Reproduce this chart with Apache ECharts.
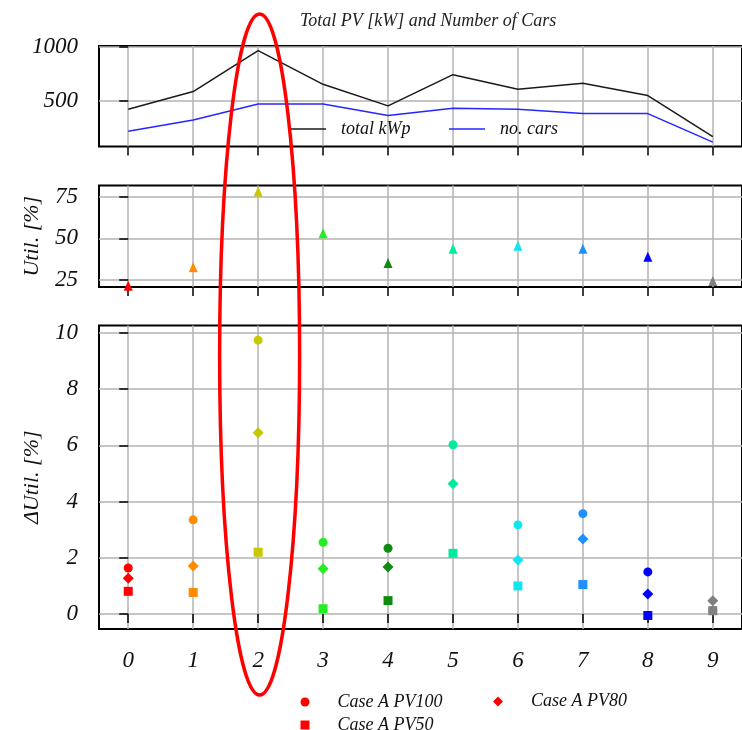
<!DOCTYPE html>
<html>
<head>
<meta charset="utf-8">
<script src="https://cdn.jsdelivr.net/npm/echarts@6/dist/echarts.min.js"></script>
<style>
html,body{margin:0;padding:0;background:#fff;}
#chart{width:742px;height:730px;}
</style>
</head>
<body>
<div id="chart"></div>
<script>
// ---- data ----
const cases = [0, 1, 2, 3, 4, 5, 6, 7, 8, 9];
const xTicks = [0, 1, 2, 3, 4, 5, 6, 7, 8, 9];
const totalKwp = [424, 586, 963, 653, 454, 742, 608, 663, 549, 171];
const noCars = [221, 325, 472, 472, 365, 433, 424, 383, 383, 120];
const util = [21.3, 32.5, 78.4, 53.1, 35.1, 43.7, 45.5, 43.7, 38.9, 24.2];
const pv100 = [1.64, 3.35, 9.74, 2.55, 2.34, 6.02, 3.17, 3.57, 1.50, 0.13];
const pv80 = [1.27, 1.71, 6.45, 1.61, 1.67, 4.63, 1.92, 2.67, 0.71, 0.47];
const pv50 = [0.81, 0.77, 2.20, 0.19, 0.48, 2.16, 1.00, 1.05, -0.05, 0.12];
const caseColors = ['#ff0000', '#ff8c00', '#c8c800', '#22ee22', '#108a10', '#00eba0', '#11e6f0', '#1e90ff', '#0000ff', '#808080'];
const topTicks = [500, 1000];
const midTicks = [25, 50, 75];
const botTicks = [0, 2, 4, 6, 8, 10];
const title = 'Total PV [kW] and Number of Cars';

// ---- styles ----
const FF = '"Liberation Serif", "Times New Roman", serif';
const gridLine = { show: true, lineStyle: { color: '#b3b3b3', width: 1.5 } };

function xAx(gi, showLabels) {
  return {
    type: 'value', gridIndex: gi, min: -0.45, max: 9.45,
    axisLine: { show: false },
    axisTick: { show: true, length: 9, inside: false, customValues: xTicks, lineStyle: { color: '#000', width: 1.5 } },
    axisLabel: { show: showLabels, customValues: xTicks, formatter: v => String(v),
      fontFamily: FF, fontStyle: 'italic', fontSize: 23, color: '#111', margin: 20 },
    splitLine: gridLine
  };
}
function yAx(gi, min, max, ticks, name) {
  return {
    type: 'value', gridIndex: gi, min: min, max: max,
    axisLine: { show: false },
    axisTick: { show: true, length: 9, inside: false, customValues: ticks, lineStyle: { color: '#000', width: 1.5 } },
    axisLabel: { customValues: ticks, formatter: v => String(v),
      fontFamily: FF, fontStyle: 'italic', fontSize: 23, color: '#111', margin: 21 },
    splitLine: gridLine,
    name: name, nameLocation: 'middle', nameGap: 56, nameRotate: 90,
    nameTextStyle: { fontFamily: FF, fontStyle: 'italic', fontSize: 22, color: '#111' }
  };
}
const gridBase = { show: true, borderColor: '#000', borderWidth: 2, backgroundColor: 'transparent', left: 99, right: -9.5, containLabel: false };

function colored(vals) {
  return vals.map((v, i) => ({ value: [cases[i], v], itemStyle: { color: caseColors[i], opacity: 1 } }));
}
const legendText = { fontFamily: FF, fontStyle: 'italic', fontSize: 18, color: '#111' };

const option = {
  animation: false,
  backgroundColor: '#fff',
  title: {
    text: title, left: 295, top: 7,
    textStyle: { fontFamily: FF, fontStyle: 'italic', fontWeight: 'normal', fontSize: 18, color: '#222' }
  },
  grid: [
    Object.assign({}, gridBase, { top: 46, height: 100.5 }),
    Object.assign({}, gridBase, { top: 185.5, height: 101.5 }),
    Object.assign({}, gridBase, { top: 325.5, height: 303.5 })
  ],
  xAxis: [xAx(0, false), xAx(1, false), xAx(2, true)],
  yAxis: [
    yAx(0, 80, 1006, topTicks, ''),
    yAx(1, 20.5, 82, midTicks, 'Util. [%]'),
    yAx(2, -0.53, 10.26, botTicks, 'ΔUtil. [%]')
  ],
  legend: [
    { data: [{ name: 'total kWp', icon: 'rect' }], left: 290, top: 120, padding: 0, itemWidth: 36, itemHeight: 1.5,
      textStyle: Object.assign({}, legendText, { padding: [0, 0, 0, 10] }) },
    { data: [{ name: 'no. cars', icon: 'rect' }], left: 449, top: 120, padding: 0, itemWidth: 36, itemHeight: 1.5,
      textStyle: Object.assign({}, legendText, { padding: [0, 0, 0, 10] }) },
    { data: ['Case A PV100'], left: 300.5, top: 693, padding: 0, itemWidth: 9, itemHeight: 9,
      textStyle: Object.assign({}, legendText, { padding: [0, 0, 0, 23] }) },
    { data: ['Case A PV80'], left: 493, top: 692.5, padding: 0, itemWidth: 10, itemHeight: 10,
      textStyle: Object.assign({}, legendText, { padding: [0, 0, 0, 23] }) },
    { data: ['Case A PV50'], left: 300.5, top: 716, padding: 0, itemWidth: 9, itemHeight: 9,
      textStyle: Object.assign({}, legendText, { padding: [0, 0, 0, 23] }) }
  ],
  series: [
    { name: 'total kWp', type: 'line', xAxisIndex: 0, yAxisIndex: 0, symbol: 'none', z: 3,
      data: cases.map((c, i) => [c, totalKwp[i]]),
      lineStyle: { color: '#1a1a1a', width: 1.5 }, itemStyle: { color: '#1a1a1a' } },
    { name: 'no. cars', type: 'line', xAxisIndex: 0, yAxisIndex: 0, symbol: 'none', z: 3,
      data: cases.map((c, i) => [c, noCars[i]]),
      lineStyle: { color: '#2626ff', width: 1.5 }, itemStyle: { color: '#2626ff' } },
    { name: 'util', type: 'scatter', xAxisIndex: 1, yAxisIndex: 1, symbol: 'triangle', symbolSize: [9, 10], z: 3,
      itemStyle: { opacity: 1 }, data: colored(util) },
    { name: 'Case A PV100', type: 'scatter', xAxisIndex: 2, yAxisIndex: 2, symbol: 'circle', symbolSize: 9, z: 3,
      itemStyle: { color: '#ff0000', opacity: 1 }, data: colored(pv100) },
    { name: 'Case A PV80', type: 'scatter', xAxisIndex: 2, yAxisIndex: 2, symbol: 'diamond', symbolSize: [11, 11], z: 3,
      itemStyle: { color: '#ff0000', opacity: 1 }, data: colored(pv80) },
    { name: 'Case A PV50', type: 'scatter', xAxisIndex: 2, yAxisIndex: 2, symbol: 'rect', symbolSize: 9, z: 3,
      itemStyle: { color: '#ff0000', opacity: 1 }, data: colored(pv50) }
  ]
};

const chart = echarts.init(document.getElementById('chart'), null, { renderer: 'canvas' });
chart.setOption(option);

// red ellipse annotation around case 2
const cx = chart.convertToPixel({ xAxisIndex: 2 }, 2) + 1.5;
try {
  chart.setOption({ graphic: [{ type: 'ellipse', shape: { cx: cx, cy: 354.5, rx: 40, ry: 340.5 },
    style: { fill: 'none', stroke: '#ff0000', lineWidth: 3.5 }, z: 100 }] });
} catch (e) {
  chart.setOption({ graphic: [{ type: 'circle', x: cx, y: 354.5, scaleX: 40 / 340.5, shape: { cx: 0, cy: 0, r: 340.5 },
    style: { fill: 'none', stroke: '#ff0000', lineWidth: 3.5, strokeNoScale: true }, z: 100 }] });
}
</script>
</body>
</html>
